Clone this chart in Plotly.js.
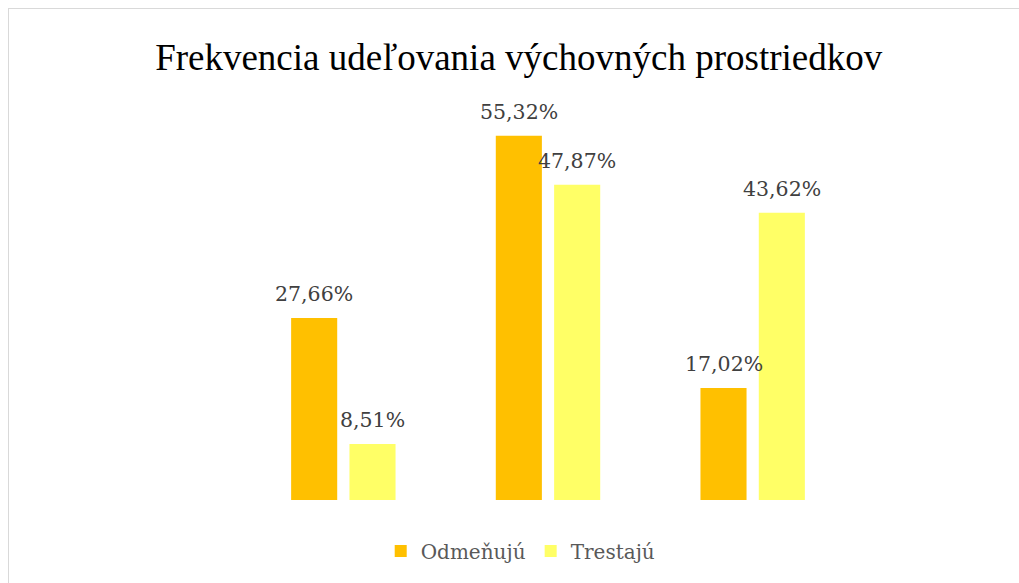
<!DOCTYPE html>
<html>
<head>
<meta charset="utf-8">
<script src="https://cdn.plot.ly/plotly-3.0.1.min.js"></script>
<style>
  html, body { margin: 0; padding: 0; overflow: hidden; background: #fff; }
  #chart { position: absolute; left: 0; top: 0; width: 1019px; height: 583px; }
  #frame { position: absolute; left: 8px; top: 8px; width: 1200px; height: 800px;
           border: 1px solid #d9d9d9; pointer-events: none; }
</style>
</head>
<body>
<div id="chart"></div>
<div id="frame"></div>
<script>
const categories = ["A", "B", "C"];
const seriesNames = ["Odmeňujú", "Trestajú"];
const odmenuju = [27.66, 55.32, 17.02];
const trestaju = [8.51, 47.87, 43.62];
const colors = ["#FFC000", "#FFFF66"];

const fmt = v => v.toFixed(2).replace(".", ",") + "%";

const traces = [odmenuju, trestaju].map((vals, i) => ({
  type: "bar",
  name: seriesNames[i],
  x: categories,
  y: vals,
  marker: { color: colors[i] },
  hoverinfo: "skip"
}));

const annotations = [];
[odmenuju, trestaju].forEach((vals, i) => {
  vals.forEach((v, j) => {
    annotations.push({
      x: categories[j], y: v, xref: "x", yref: "y",
      text: fmt(v), showarrow: false,
      yanchor: "bottom", xanchor: "center",
      xshift: i === 0 ? -29 : 29, yshift: 10,
      font: { family: "DejaVu Serif", size: 20.5, color: "#404040" }
    });
  });
});

const layout = {
  width: 1019, height: 583,
  paper_bgcolor: "rgba(0,0,0,0)", plot_bgcolor: "rgba(0,0,0,0)",
  margin: { l: 241, r: 164, t: 105, b: 83 },
  barmode: "group",
  bargap: 0.43,
  bargroupgap: 0.21,
  title: {
    text: "Frekvencia udeľovania výchovných prostriedkov",
    font: { family: "Liberation Serif", size: 37, color: "#000" },
    x: 0.509, xref: "container", xanchor: "center",
    y: 1 - 57 / 583, yref: "container", yanchor: "middle"
  },
  xaxis: { showticklabels: false, showgrid: false, zeroline: false, showline: false, ticks: "" },
  yaxis: { range: [0, 60], showticklabels: false, showgrid: false, zeroline: false, showline: false, ticks: "" },
  showlegend: true,
  legend: {
    orientation: "h", x: 0.511, xanchor: "center", xref: "container",
    y: 1 - 551 / 583, yref: "container", yanchor: "middle",
    font: { family: "DejaVu Serif", size: 20, color: "#595959" },
    itemwidth: 30, traceorder: "normal"
  },
  annotations: annotations
};

Plotly.newPlot("chart", traces, layout, { displayModeBar: false, staticPlot: true });
</script>
</body>
</html>
